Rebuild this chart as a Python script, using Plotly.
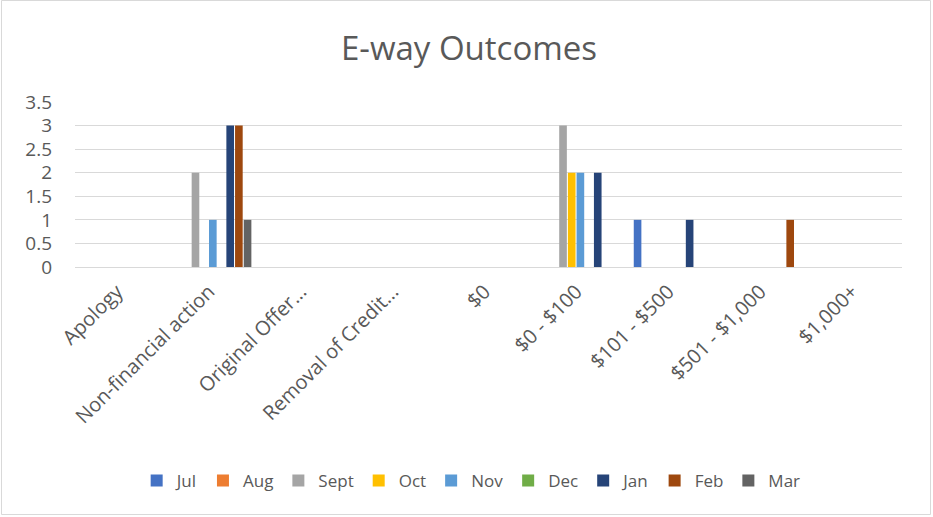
import plotly.graph_objects as go

categories = ["Apology", "Non-financial action", "Original Offer...", "Removal of Credit...",
              "$0", "$0 - $100", "$101 - $500", "$501 - $1,000", "$1,000+"]
months = ["Jul", "Aug", "Sept", "Oct", "Nov", "Dec", "Jan", "Feb", "Mar"]
jul = [0, 0, 0, 0, 0, 0, 1, 0, 0]
aug = [0, 0, 0, 0, 0, 0, 0, 0, 0]
sept = [0, 2, 0, 0, 0, 3, 0, 0, 0]
oct_ = [0, 0, 0, 0, 0, 2, 0, 0, 0]
nov = [0, 1, 0, 0, 0, 2, 0, 0, 0]
dec = [0, 0, 0, 0, 0, 0, 0, 0, 0]
jan = [0, 3, 0, 0, 0, 2, 1, 0, 0]
feb = [0, 3, 0, 0, 0, 0, 0, 1, 0]
mar = [0, 1, 0, 0, 0, 0, 0, 0, 0]
series = [jul, aug, sept, oct_, nov, dec, jan, feb, mar]
colors = ["#4472C4", "#ED7D31", "#A5A5A5", "#FFC000", "#5B9BD5",
          "#70AD47", "#264478", "#9E480E", "#636363"]
yticks = [0, 0.5, 1, 1.5, 2, 2.5, 3, 3.5]

FONT = "'Open Sans', sans-serif"
W, H = 933, 517
L, R, T, B = 75, 31, 102, 250

fig = go.Figure()
for name, vals, c in zip(months, series, colors):
    fig.add_trace(go.Bar(name=name, x=categories, y=vals, marker_color=c,
                         marker_line_width=0))

pw, ph = W - L - R, H - T - B
fig.add_shape(type="rect", xref="paper", yref="paper",
              x0=-(L - 1.5) / pw, x1=1 + (R - 2.5) / pw,
              y0=-(B - 2.5) / ph, y1=1 + (T - 0.5) / ph,
              line=dict(color="#D9D9D9", width=1), layer="below")

fig.update_layout(
    width=W, height=H,
    margin=dict(l=L, r=R, t=T, b=B),
    paper_bgcolor="white", plot_bgcolor="white",
    font=dict(family=FONT, color="#595959", size=16),
    title=dict(text="E-way Outcomes", x=469 / W, xref="container", xanchor="center",
               y=1 - 48 / H, yanchor="middle", yref="container",
               font=dict(size=33, color="#595959", family=FONT)),
    barmode="group", bargap=0.15, bargroupgap=0.12,
    showlegend=True,
    legend=dict(orientation="h", xref="container", x=0.505, xanchor="center",
                yref="container", y=1 - 481 / H, yanchor="middle",
                font=dict(size=17, color="#595959"), itemwidth=30,
                traceorder="normal", bgcolor="rgba(0,0,0,0)"),
    xaxis=dict(tickangle=-45, showgrid=False, showline=False, ticks="",
               ticklabelstandoff=8, ticklabelshift=-4,
               tickfont=dict(size=20, color="#595959"), automargin=False),
    yaxis=dict(range=[0, 3.5], tickvals=yticks, ticktext=[f"{v:g}" for v in yticks],
               showgrid=True, gridcolor="#D9D9D9", gridwidth=1,
               zeroline=True, zerolinecolor="#D9D9D9", zerolinewidth=1,
               showline=False, ticks="", ticklabelstandoff=22,
               tickfont=dict(size=19, color="#595959"), automargin=False),
)

fig.write_html("out.html", config={"displayModeBar": False},
               post_script="document.body.style.margin='0';document.body.style.overflow='hidden';")
